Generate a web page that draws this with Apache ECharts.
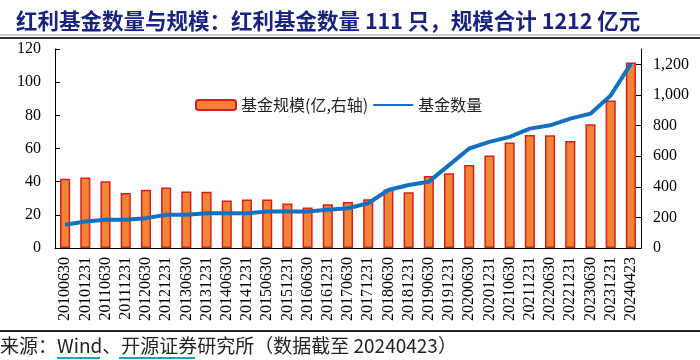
<!DOCTYPE html>
<html>
<head>
<meta charset="utf-8">
<script src="https://cdn.jsdelivr.net/npm/echarts@6/dist/echarts.min.js"></script>
<style>html,body{margin:0;padding:0;background:#fff;}#c{width:700px;height:360px;}</style>
</head>
<body>
<div id="c"></div>
<script>
var categories = ['20100630','20101231','20110630','20111231','20120630','20121231','20130630','20131231','20140630','20141231','20150630','20151231','20160630','20161231','20170630','20171231','20180630','20181231','20190630','20191231','20200630','20201231','20210630','20211231','20220630','20221231','20230630','20231231','20240423'];
var fundScale = [453,460,436,360,380,395,369,367,310,317,317,291,265,286,300,319,382,365,471,488,543,605,690,738,736,699,809,963,1212];
var fundCount = [14,16,17,17,18,20,20,21,21,21,22,22,22,23,24,27,35,38,40,50,60,64,67,72,74,78,81,92,111];
var leftTicks = [0,20,40,60,80,100,120];
var rightTicks = [0,200,400,600,800,1000,1200];
var titleText = '红利基金数量与规模：红利基金数量 111 只，规模合计 1212 亿元';
var sourceText = '来源：Wind、开源证券研究所（数据截至 20240423）';
var seriesNames = ['基金规模(亿,右轴)', '基金数量'];

var serif = '"Liberation Serif", "Times New Roman", serif';
var cjk = '"Noto Sans CJK SC", sans-serif';
var chart = echarts.init(document.getElementById('c'), null, {renderer: 'canvas'});
chart.setOption({
  animation: false,
  backgroundColor: '#fff',
  title: {
    text: titleText, left: 11, top: 5,
    textStyle: {fontSize: 21.5, fontWeight: 'bold', color: '#1a237e', fontFamily: cjk}
  },
  legend: {
    left: 190, top: 92, itemWidth: 40, itemHeight: 10, itemGap: 4,
    data: [seriesNames[0], {name: seriesNames[1], itemStyle: {opacity: 0}}],
    textStyle: {fontSize: 16, color: '#222', fontFamily: cjk}
  },
  grid: {left: 55, right: 59, top: 49, bottom: 112},
  xAxis: {
    type: 'category', data: categories,
    axisLine: {lineStyle: {color: '#000', width: 1}},
    axisTick: {inside: true, length: 5, interval: 0, lineStyle: {color: '#000'}},
    axisLabel: {rotate: 90, interval: 0, fontSize: 16, fontFamily: serif, color: '#000', margin: 9}
  },
  yAxis: [{
    type: 'value', position: 'left', min: leftTicks[0], max: leftTicks[leftTicks.length-1], interval: 20,
    axisLine: {show: true, lineStyle: {color: '#000'}},
    axisTick: {show: true, inside: true, length: 5, lineStyle: {color: '#000'}},
    splitLine: {show: false},
    axisLabel: {fontSize: 16, fontFamily: serif, color: '#000', margin: 14}
  }, {
    type: 'value', position: 'right', min: 0, max: 1300, interval: 200,
    axisLine: {show: true, lineStyle: {color: '#000'}},
    axisTick: {show: true, inside: true, length: 5, customValues: rightTicks, lineStyle: {color: '#000'}},
    splitLine: {show: false},
    axisLabel: {fontSize: 16, fontFamily: serif, color: '#000', margin: 12, customValues: rightTicks,
      formatter: function (v) { return v.toLocaleString('en-US'); }}
  }],
  series: [{
    name: seriesNames[0], type: 'bar', yAxisIndex: 1, data: fundScale, barWidth: '50%',
    itemStyle: {color: '#F08535', borderColor: '#D81E1E', borderWidth: 1.5}
  }, {
    name: seriesNames[1], type: 'line', yAxisIndex: 0, data: fundCount, symbol: 'none', z: 5,
    lineStyle: {color: '#1170C0', width: 4}, itemStyle: {color: '#1170C0'}
  }],
  graphic: [
    {type: 'line', shape: {x1: 0, y1: 35, x2: 700, y2: 35}, style: {stroke: '#999', lineWidth: 1}},
    {type: 'line', shape: {x1: 0, y1: 38, x2: 700, y2: 38}, style: {stroke: '#333', lineWidth: 2}},
    {type: 'line', shape: {x1: 0, y1: 331, x2: 700, y2: 331}, style: {stroke: '#222', lineWidth: 2}},
    {type: 'text', left: 0, top: 336, style: {text: sourceText, fill: '#222', font: '19px "Noto Sans CJK SC", sans-serif'}},
    {type: 'line', shape: {x1: 57, y1: 358, x2: 100, y2: 358}, style: {stroke: '#1BA3C6', lineWidth: 2}},
    {type: 'line', shape: {x1: 119, y1: 358, x2: 195, y2: 358}, style: {stroke: '#1BA3C6', lineWidth: 2}}
  ]
});
</script>
</body>
</html>
